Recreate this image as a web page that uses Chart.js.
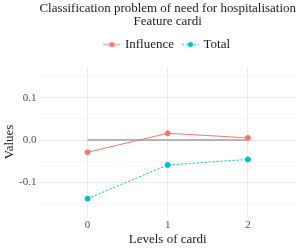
<!DOCTYPE html>
<html>
<head>
<meta charset="utf-8">
<script src="https://cdn.jsdelivr.net/npm/chart.js@4/dist/chart.umd.min.js"></script>
<style>
  html, body { margin: 0; padding: 0; background: #fff; }
  #wrap { width: 300px; height: 250px; }
</style>
</head>
<body>
<div id="wrap"><canvas id="grafico"></canvas></div>
<script>
// --- Dados ---
const niveis = [0, 1, 2];
const influencia = [-0.029, 0.016, 0.005];
const total = [-0.139, -0.059, -0.046];
const referencia = [0, 0, 0];
const ticksY = [-0.15, -0.1, -0.05, 0, 0.05, 0.1, 0.15];

const serif = '"Liberation Serif", "DejaVu Serif", serif';

function pontos(valores) {
  return niveis.map((n, i) => ({ x: n, y: valores[i] }));
}

// Marcador da legenda: linha com ponto, no estilo do ggplot.
function marcador(cor, tracejado) {
  const c = document.createElement('canvas');
  c.width = 17; c.height = 8;
  const g = c.getContext('2d');
  g.strokeStyle = cor; g.lineWidth = 1;
  if (tracejado) g.setLineDash([2, 2]);
  g.beginPath(); g.moveTo(0, 4); g.lineTo(17, 4); g.stroke();
  g.fillStyle = cor;
  g.beginPath(); g.arc(8.5, 4, 2.6, 0, Math.PI * 2); g.fill();
  return c;
}

const ehMaior = v => Math.abs(Math.round(v * 10) - v * 10) < 1e-6;

// Centraliza título e legenda sobre a área do gráfico (como no ggplot)
// e deixa um respiro entre a legenda e o painel.
const centralizar = {
  id: 'centralizar',
  beforeLayout(chart) {
    const leg = chart.legend;
    if (leg && !leg._comRespiro) {
      const fitOriginal = leg.fit;
      leg.fit = function () { fitOriginal.call(this); this.height += 6; };
      leg._comRespiro = true;
    }
  },
  afterLayout(chart) {
    const a = chart.chartArea;
    [chart.titleBlock, chart.legend].forEach(b => {
      if (!b) return;
      b.left = a.left;
      b.right = a.right;
    });
  }
};

const grafico = new Chart(document.getElementById('grafico'), {
  type: 'line',
  plugins: [centralizar],
  data: {
    datasets: [{
      label: 'Influence',
      data: pontos(influencia),
      borderColor: '#F8766D',
      backgroundColor: '#F8766D',
      borderWidth: 1,
      pointRadius: 2.5,
      pointHoverRadius: 2.5,
      pointStyle: 'circle',
      order: 1
    }, {
      label: 'Total',
      data: pontos(total),
      borderColor: '#00BFC4',
      backgroundColor: '#00BFC4',
      borderWidth: 1,
      borderDash: [2, 2],
      pointRadius: 2.5,
      pointHoverRadius: 2.5,
      pointStyle: 'circle',
      order: 1
    }, {
      label: 'ref',
      data: pontos(referencia),
      borderColor: '#a0a0a0',
      borderWidth: 1.3,
      pointRadius: 0,
      order: 2
    }]
  },
  options: {
    responsive: true,
    maintainAspectRatio: false,
    animation: false,
    layout: { padding: { left: 0, right: 4, top: 2, bottom: 4 } },
    plugins: {
      tooltip: { enabled: false },
      title: {
        display: true,
        text: ['Classification problem of need for hospitalisation', 'Feature cardi'],
        color: '#1a1a1a',
        font: { family: serif, size: 13, weight: 'normal', lineHeight: 1.0 },
        padding: { top: 0, bottom: 0 }
      },
      legend: {
        position: 'top',
        labels: {
          generateLabels: chart => chart.data.datasets.slice(0, 2).map((ds, i) => ({
            text: ds.label,
            pointStyle: marcador(ds.borderColor, i === 1),
            fontColor: '#1a1a1a',
            strokeStyle: ds.borderColor,
            fillStyle: ds.borderColor,
            lineWidth: 0,
            datasetIndex: i
          })),
          usePointStyle: true,
          color: '#1a1a1a',
          font: { family: serif, size: 13 },
          padding: 10
        }
      }
    },
    scales: {
      x: {
        type: 'linear',
        min: -0.6,
        max: 2.6,
        afterBuildTicks: escala => { escala.ticks = niveis.map(v => ({ value: v })); },
        ticks: { color: '#4d4d4d', font: { family: serif, size: 11 }, padding: 1.5 },
        grid: { color: '#ebebeb', drawTicks: false },
        border: { display: false },
        title: {
          display: true,
          text: 'Levels of cardi',
          color: '#1a1a1a',
          font: { family: serif, size: 13, lineHeight: 1.0 },
          padding: { top: 0, bottom: 0 }
        }
      },
      y: {
        min: -0.182,
        max: 0.173,
        afterBuildTicks: escala => { escala.ticks = ticksY.map(v => ({ value: v })); },
        ticks: {
          color: '#4d4d4d',
          font: { family: serif, size: 11 },
          padding: 3,
          callback: v => ehMaior(v) ? v.toFixed(1) : ''
        },
        grid: {
          color: ctx => ctx.tick && ehMaior(ctx.tick.value) ? '#ebebeb' : '#f5f5f5',
          drawTicks: false
        },
        border: { display: false },
        title: {
          display: true,
          text: 'Values',
          color: '#1a1a1a',
          font: { family: serif, size: 13, lineHeight: 1.0 },
          padding: { top: 3, bottom: 0 }
        }
      }
    }
  }
});
</script>
</body>
</html>
